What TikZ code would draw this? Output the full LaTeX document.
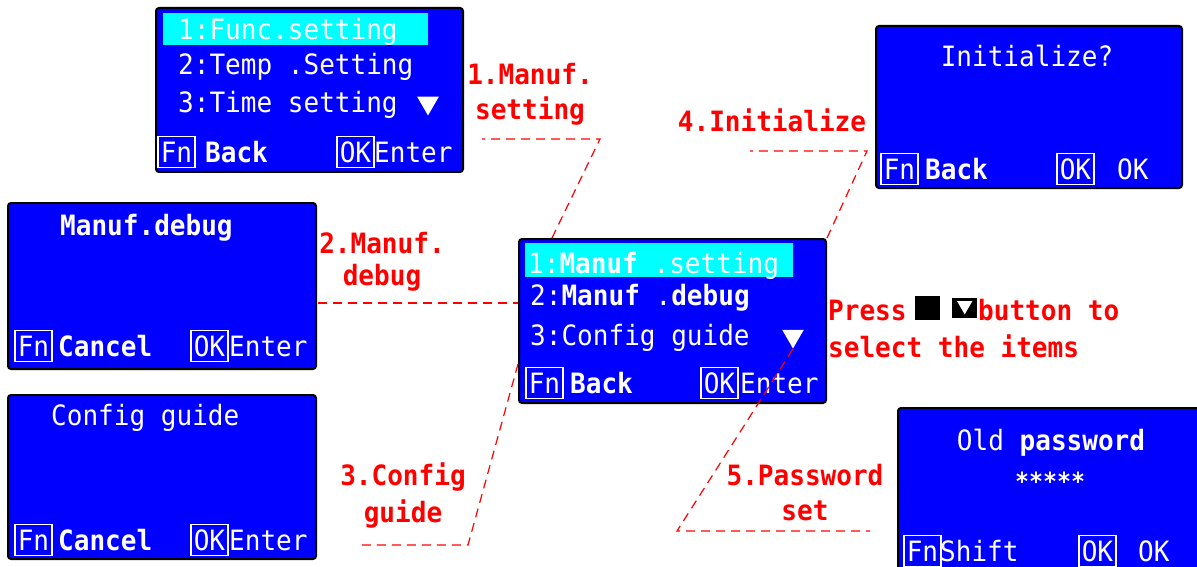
\documentclass[tikz,border=0pt]{standalone}
\usepackage{fontspec}
\usetikzlibrary{shapes.geometric}
\newfontfamily\lcdface[FakeStretch=0.93]{DejaVu Sans Mono}
\newcommand\lcdtext{\lcdface\fontsize{28}{30}\selectfont}
\newcommand\lcdbold{\lcdface\bfseries\fontsize{28}{30}\selectfont}
\newcommand\lcdstar{\lcdface\bfseries\fontsize{25}{27}\selectfont}
\definecolor{lcdblue}{RGB}{0,0,255}
\definecolor{lcdcyan}{RGB}{0,255,255}
\definecolor{notered}{RGB}{255,0,0}
\tikzset{
  screen/.style={draw=black, line width=2pt, fill=lcdblue, rounded corners=3pt,
    inner sep=0pt, anchor=north west},
  hilite/.style={fill=lcdcyan, inner sep=0pt, anchor=north west},
  lcd/.style={text=white, font=\lcdtext, inner sep=0pt, anchor=base west},
  lcdb/.style={lcd, font=\lcdbold},
  lcdc/.style={text=white, font=\lcdtext, inner sep=0pt, anchor=base},
  keybox/.style={draw=white, line width=1.5pt, text=white, font=\lcdtext,
    inner xsep=3pt, inner ysep=0pt, minimum height=31pt, anchor=west},
  downtri/.style={regular polygon, regular polygon sides=3, shape border rotate=180,
    fill=white, inner sep=0pt, minimum size=25pt},
  note/.style={text=notered, font=\lcdbold, inner sep=0pt, anchor=base},
  notel/.style={note, anchor=base west},
  link/.style={draw=notered, line width=1.2pt, dash pattern=on 9pt off 6pt},
}
\begin{document}
\begin{tikzpicture}[x=1pt, y=-1pt]
\useasboundingbox (0,0) rectangle (1197,567);
\clip (0,0) rectangle (1197,567);

% ---- function settings menu (top left)
\node[screen, minimum width=307pt, minimum height=164pt] (func) at (155,7) {};
\node[hilite, minimum width=265pt, minimum height=32pt] (funchl) at (163,13) {};
\node[lcd] (func1) at (178,40) {1:Func.setting};
\node[lcd] (func2) at (178,75) {2:Temp .Setting};
\node[lcd] (func3) at (178,113) {3:Time setting};
\node[downtri] (functri) at (428,103) {};
\node[keybox] (funcfn) at (157,152) {Fn};
\node[lcdb] (funcback) at (205,163) {Back};
\node[keybox] (funcok) at (336,152) {OK};
\node[lcd] (funcenter) at (374,163) {Enter};

% ---- manufacturer menu (centre)
\node[screen, minimum width=307pt, minimum height=164pt] (main) at (518,238) {};
\node[hilite, minimum width=268pt, minimum height=34pt] (mainhl) at (525,243) {};
\node[lcd] (main1) at (528,273) {1:{\bfseries Manuf} .setting};
\node[lcd] (main2) at (530,305) {2:{\bfseries Manuf} .{\bfseries debug}};
\node[lcd] (main3) at (530,345) {3:Config guide};
\node[downtri] (maintri) at (793,336) {};
\node[keybox] (mainfn) at (525,383) {Fn};
\node[lcdb] (mainback) at (570,393) {Back};
\node[keybox] (mainok) at (700,383) {OK};
\node[lcd] (mainenter) at (740,393) {Enter};

% ---- initialize dialog (top right)
\node[screen, minimum width=306pt, minimum height=162pt] (init) at (875,25) {};
\node[lcdc] (inittitle) at (1027,67) {Initialize?};
\node[keybox] (initfn) at (880,169) {Fn};
\node[lcdb] (initback) at (925,179) {Back};
\node[keybox] (initok) at (1056,169) {OK};
\node[lcd] (initoktext) at (1117,179) {OK};

% ---- password dialog (bottom right)
\node[screen, minimum width=330pt, minimum height=190pt] (pwd) at (897,407) {};
\node[lcdc] (pwdtitle) at (1051,450) {Old {\bfseries password}};
\node[text=white, font=\lcdstar, inner sep=0pt, anchor=base] (pwdstars) at (1050,490) {*****};
\node[keybox] (pwdfn) at (903,551) {Fn};
\node[lcd] (pwdshift) at (940,561) {Shift};
\node[keybox] (pwdok) at (1078,551) {OK};
\node[lcd] (pwdoktext) at (1138,561) {OK};

% ---- debug screen (left middle)
\node[screen, minimum width=308pt, minimum height=166pt] (debug) at (7,202) {};
\node[lcdb] (debugtitle) at (60,235) {Manuf.debug};
\node[keybox] (debugfn) at (14,346) {Fn};
\node[lcdb] (debugcancel) at (58,356) {Cancel};
\node[keybox] (debugok) at (190,346) {OK};
\node[lcd] (debugenter) at (229,356) {Enter};

% ---- configuration guide screen (left bottom)
\node[screen, minimum width=308pt, minimum height=164pt] (cfg) at (7,394) {};
\node[lcd] (cfgtitle) at (51,425) {Config guide};
\node[keybox] (cfgfn) at (14,540) {Fn};
\node[lcdb] (cfgcancel) at (58,550) {Cancel};
\node[keybox] (cfgok) at (190,540) {OK};
\node[lcd] (cfgenter) at (229,550) {Enter};

% ---- red annotations
\node[note] (lab1a) at (530,85) {1.Manuf.};
\node[note] (lab1b) at (530,120) {setting};
\node[note] (lab2a) at (382,253) {2.Manuf.};
\node[note] (lab2b) at (382,285) {debug};
\node[note] (lab3a) at (403,485) {3.Config};
\node[note] (lab3b) at (403,522) {guide};
\node[note] (lab4) at (772,132) {4.Initialize};
\node[note] (lab5a) at (805,485) {5.Password};
\node[note] (lab5b) at (805,520) {set};

\node[notel] (press) at (828,320) {Press};
\node[fill=black, inner sep=0pt, minimum width=25pt, minimum height=24pt, anchor=north west] (keysq) at (915,296) {};
\node[fill=black, inner sep=0pt, minimum width=25pt, minimum height=20pt, anchor=north west] (keydn) at (952,298) {};
\fill[white] ([xshift=5pt,yshift=-3pt]keydn.north west) -- ([xshift=-5pt,yshift=-3pt]keydn.north east) -- ([yshift=4pt]keydn.south) -- cycle;
\node[notel] (press2) at (978,320) {button to};
\node[notel] (press3) at (828,357) {select the items};

% ---- dashed connectors
\coordinate (b1) at (600,139);
\coordinate (e1) at (482,139);
\draw[link] ([xshift=34pt]main.north west) -- (b1) -- (e1);

\coordinate (e2) at (318,303);
\draw[link] (e2) -- (e2 -| main.west);

\coordinate (b3) at (468,545);
\coordinate (e3) at (360,545);
\draw[link] ([yshift=40pt]main.south west) -- (b3) -- (e3);

\coordinate (b4) at (867,151);
\coordinate (e4) at (750,151);
\draw[link] (main.north east) -- (b4) -- (e4);

\coordinate (b5) at (677,531);
\coordinate (e5) at (870,531);
\draw[link] (maintri.south) -- (b5) -- (e5);
\end{tikzpicture}
\end{document}
